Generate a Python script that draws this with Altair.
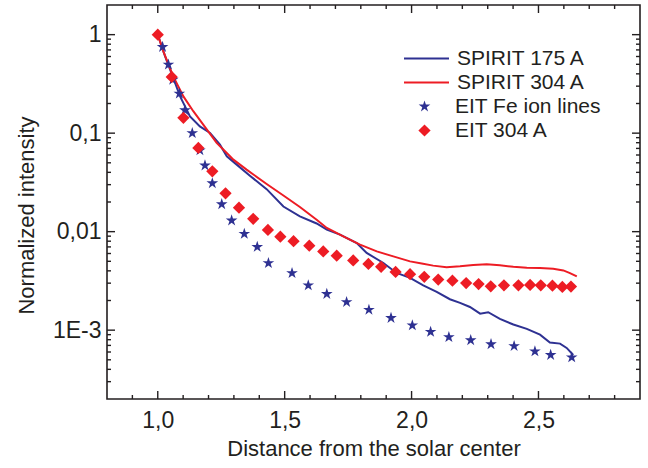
import altair as alt
import pandas as pd

# ---------------- data ----------------
spirit175_x = [1.000, 1.029, 1.061, 1.088, 1.127, 1.166, 1.206, 1.245, 1.272, 1.311,
               1.363, 1.429, 1.495, 1.560, 1.626, 1.666, 1.718, 1.784, 1.823, 1.889,
               1.941, 1.994, 2.046, 2.099, 2.151, 2.191, 2.230, 2.270, 2.302, 2.348,
               2.401, 2.454, 2.506, 2.545, 2.585, 2.611, 2.637]
spirit175_y = [1.0, 0.602, 0.363, 0.236, 0.148, 0.117, 0.1005, 0.0764, 0.0582, 0.0479,
               0.0370, 0.0270, 0.0180, 0.0143, 0.0121, 0.0105, 0.00933, 0.00767, 0.00608, 0.00481,
               0.00381, 0.00339, 0.00285, 0.00245, 0.00206, 0.00189, 0.00172, 0.00147, 0.00152, 0.00130,
               0.00114, 0.00103, 0.00090, 0.00075, 0.00073, 0.00066, 0.00056]

spirit304_x = [1.000, 1.022, 1.061, 1.101, 1.140, 1.193, 1.232, 1.272, 1.298, 1.350,
               1.429, 1.495, 1.560, 1.626, 1.666, 1.731, 1.797, 1.863, 1.928, 1.994,
               2.040, 2.085, 2.138, 2.191, 2.243, 2.296, 2.348, 2.401, 2.454, 2.506,
               2.558, 2.598, 2.624, 2.651]
spirit304_y = [1.0, 0.677, 0.377, 0.236, 0.167, 0.109, 0.0795, 0.063, 0.0538, 0.0426,
               0.0305, 0.0233, 0.0178, 0.0132, 0.0109, 0.00896, 0.00738, 0.00631, 0.00561, 0.00499,
               0.00475, 0.00452, 0.00436, 0.00445, 0.00459, 0.00466, 0.00455, 0.00440, 0.00431, 0.00428,
               0.00421, 0.00404, 0.00380, 0.00352]

eit_fe_x = [1.019, 1.042, 1.059, 1.085, 1.107, 1.136, 1.166, 1.186, 1.215, 1.252,
            1.291, 1.341, 1.392, 1.436, 1.529, 1.593, 1.666, 1.744, 1.832, 1.919,
            2.003, 2.075, 2.147, 2.233, 2.313, 2.404, 2.486, 2.548, 2.631]
eit_fe_y = [0.75, 0.496, 0.349, 0.252, 0.171, 0.100, 0.067, 0.047, 0.031, 0.019,
            0.0130, 0.0095, 0.0070, 0.0048, 0.0038, 0.00285, 0.00233, 0.00193, 0.00161, 0.00133,
            0.00112, 0.00096, 0.00085, 0.00079, 0.00072, 0.00069, 0.00061, 0.00056, 0.00053]

eit304_x = [1.000, 1.055, 1.101, 1.160, 1.215, 1.267, 1.320, 1.376, 1.434, 1.483,
            1.535, 1.597, 1.652, 1.705, 1.770, 1.830, 1.880, 1.937, 1.994, 2.050,
            2.105, 2.161, 2.215, 2.264, 2.312, 2.364, 2.421, 2.467, 2.509, 2.555,
            2.594, 2.628]
eit304_y = [1.0, 0.372, 0.143, 0.0708, 0.041, 0.0245, 0.0175, 0.0135, 0.0104, 0.0089,
            0.0080, 0.0072, 0.0063, 0.0057, 0.0051, 0.0047, 0.0044, 0.0039, 0.0037, 0.00348,
            0.00326, 0.00318, 0.00301, 0.00294, 0.00279, 0.00285, 0.00285, 0.00288, 0.00285, 0.00283,
            0.00275, 0.00277]

line_names = ["SPIRIT 175 A", "SPIRIT 304 A"]
line_colors = ["#2e3192", "#ed1c24"]
point_names = ["EIT Fe ion lines", "EIT 304 A"]
point_colors = ["#2e3192", "#ed1c24"]
STAR = ("M0,-1L0.225,-0.309L0.951,-0.309L0.363,0.118L0.588,0.809L0,0.382"
        "L-0.588,0.809L-0.363,0.118L-0.951,-0.309L-0.225,-0.309Z")
point_shapes = [STAR, "diamond"]
LEGEND_LINE = "M-3,0L3,0"

x_major = [1.0, 1.5, 2.0, 2.5]
x_minor = [0.9, 1.1, 1.2, 1.3, 1.4, 1.6, 1.7, 1.8, 1.9, 2.1, 2.2, 2.3, 2.4, 2.6, 2.7, 2.8]
y_major = [0.001, 0.01, 0.1, 1.0]
y_minor = [round(k * d, 6) for d in [1e-4, 1e-3, 1e-2, 1e-1, 1.0] for k in range(2, 10)
           if 2e-4 < k * d < 2]

# ---------------- tables ----------------
lines_df = pd.concat([
    pd.DataFrame({"x": spirit175_x, "y": spirit175_y, "series": line_names[0]}),
    pd.DataFrame({"x": spirit304_x, "y": spirit304_y, "series": line_names[1]}),
])
points_df = pd.concat([
    pd.DataFrame({"x": eit_fe_x, "y": eit_fe_y, "series": point_names[0]}),
    pd.DataFrame({"x": eit304_x, "y": eit304_y, "series": point_names[1]}),
])

INK = "#231f20"
FONT = "Liberation Sans"
W, H = 533, 394
MAJOR, MINOR = 8, 4
x_scale = alt.Scale(domain=[0.8, 2.9], nice=False, zero=False)
y_scale = alt.Scale(type="log", domain=[2e-4, 2], nice=False)

x_lab = "replace(format(datum.value, '.1f'), '.', ',')"
y_lab = ("datum.value >= 0.5 ? '1' : datum.value >= 0.05 ? '0,1' : "
         "datum.value >= 0.005 ? '0,01' : '1E-3'")

# one shared axis definition per channel, used identically by every layer
X_AXIS = alt.Axis(orient="bottom", values=x_major, ticks=False, tickSize=0,
                  domain=False, grid=False, labelExpr=x_lab, labelPadding=10,
                  title="Distance from the solar center", titlePadding=6)
Y_AXIS = alt.Axis(orient="left", values=y_major, ticks=False, tickSize=0,
                  domain=False, grid=False, labelExpr=y_lab, labelPadding=6,
                  title="Normalized intensity", titlePadding=14, titleY=210)


def tick_layer(values, channel, side, length):
    base = alt.Chart(pd.DataFrame({"v": values})).mark_rule(color=INK, strokeWidth=1.4)
    if channel == "x":
        enc = dict(x=alt.X("v:Q", scale=x_scale, axis=X_AXIS))
        if side == "bottom":
            enc.update(y=alt.value(H - length), y2=alt.value(H))
        else:
            enc.update(y=alt.value(0), y2=alt.value(length))
    else:
        enc = dict(y=alt.Y("v:Q", scale=y_scale, axis=Y_AXIS))
        if side == "left":
            enc.update(x=alt.value(0), x2=alt.value(length))
        else:
            enc.update(x=alt.value(W - length), x2=alt.value(W))
    return base.encode(**enc)


ticks = [
    tick_layer(x_major, "x", "bottom", MAJOR), tick_layer(x_minor, "x", "bottom", MINOR),
    tick_layer(x_major, "x", "top", MAJOR), tick_layer(x_minor, "x", "top", MINOR),
    tick_layer(y_major, "y", "left", MAJOR), tick_layer(y_minor, "y", "left", MINOR),
    tick_layer(y_major, "y", "right", MAJOR), tick_layer(y_minor, "y", "right", MINOR),
]

lines = alt.Chart(lines_df).mark_line(strokeWidth=2).encode(
    x=alt.X("x:Q", scale=x_scale, axis=X_AXIS),
    y=alt.Y("y:Q", scale=y_scale, axis=Y_AXIS),
    stroke=alt.Stroke("series:N",
                      scale=alt.Scale(domain=line_names, range=line_colors),
                      legend=alt.Legend(orient="none", legendX=309, legendY=43,
                                        title=None, symbolType=LEGEND_LINE,
                                        symbolSize=225, symbolStrokeWidth=2,
                                        labelOffset=20, rowPadding=2, padding=0)),
)

pt_legend = alt.Legend(orient="none", legendX=307, legendY=91, title=None,
                       symbolSize=150, symbolStrokeWidth=0,
                       labelOffset=20, rowPadding=2, padding=0)

points = alt.Chart(points_df).mark_point(filled=True, opacity=1, strokeWidth=0, size=150).encode(
    x=alt.X("x:Q", scale=x_scale, axis=X_AXIS),
    y=alt.Y("y:Q", scale=y_scale, axis=Y_AXIS),
    fill=alt.Fill("series:N", scale=alt.Scale(domain=point_names, range=point_colors),
                  legend=pt_legend),
    shape=alt.Shape("series:N", scale=alt.Scale(domain=point_names, range=point_shapes),
                    legend=pt_legend),
)

chart = alt.layer(*ticks, lines, points).properties(
    width=W, height=H,
    autosize=alt.AutoSizeParams(type="none"),
    padding={"left": 107, "top": 5, "right": 8, "bottom": 69},
    background="white",
).configure_view(
    stroke=INK, strokeWidth=1.6
).configure_axis(
    labelFont=FONT, labelFontSize=23, labelColor=INK,
    titleFont=FONT, titleFontSize=22, titleColor=INK, titleFontWeight="normal",
).configure_legend(
    labelFont=FONT, labelFontSize=21, labelColor=INK,
)

chart.save("out.html", embed_options={"renderer": "svg", "actions": False})
